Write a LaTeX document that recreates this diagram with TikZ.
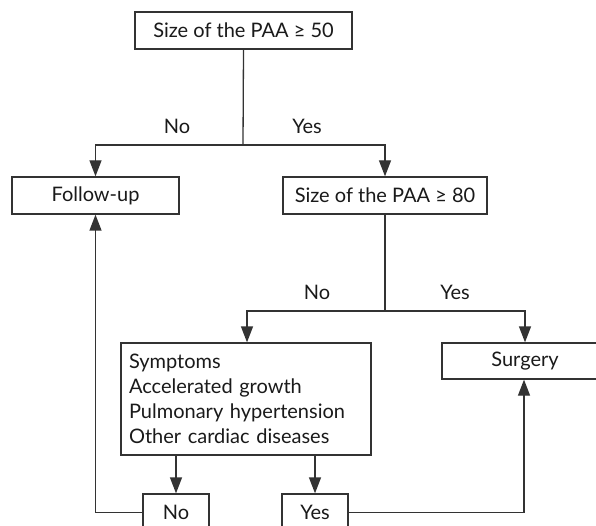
\documentclass[tikz,border=0pt]{standalone}
\usepackage{fontspec}
\setmainfont{Lato}
\usetikzlibrary{arrows.meta}
\definecolor{ln}{HTML}{333333}
\definecolor{tx}{HTML}{1A1A1A}
\tikzset{
  box/.style={draw=ln, line width=1.3pt, fill=white, inner sep=0pt, text=tx, font=\fontsize{20}{25}\selectfont},
  conn/.style={draw=ln, line width=1.3pt, -{Triangle[length=16pt,width=12pt]}},
  plain/.style={draw=ln, line width=1.3pt},
  lbl/.style={text=tx, font=\fontsize{20}{25}\selectfont, inner sep=0pt}
}
\begin{document}
\begin{tikzpicture}[x=1pt,y=-1pt]
\useasboundingbox (0,0) rectangle (596,526);
\clip (0,0) rectangle (596,526);
\node[box, minimum width=217pt, minimum height=37pt] (top) at (243.5,30.5) {Size of the PAA ≥ 50};
\node[box, minimum width=167pt, minimum height=37pt] (follow) at (95.5,195.5) {Follow-up};
\node[box, minimum width=204pt, minimum height=37pt] (paa) at (385,195.5) {Size of the PAA ≥ 80};
\node[box, minimum height=112pt, text width=234pt, inner xsep=8pt, align=left] (symp) at (246,399) {Symptoms\\Accelerated growth\\Pulmonary hypertension\\Other cardiac diseases};
\node[box, minimum width=166pt, minimum height=36pt] (surg) at (525,361) {Surgery};
\node[box, minimum width=66pt, minimum height=37pt] (no) at (176,512.5) {No};
\node[box, minimum width=66pt, minimum height=37pt] (yes) at (315,512.5) {Yes};
\coordinate (j1) at (243,145);
\coordinate (j2) at (385,311);
\node[lbl] (l1) at (177,126) {No};
\node[lbl] (l2) at (307,126) {Yes};
\node[lbl] (l3) at (317,292) {No};
\node[lbl] (l4) at (455,292) {Yes};
\draw[plain] (top.south) -- (j1);
\draw[conn] (j1) -| (follow.north);
\draw[conn] (j1) -| (paa.north);
\draw[plain] (paa.south) -- (j2);
\draw[conn] (j2) -| ([xshift=1pt]symp.north);
\draw[conn] (j2) -| (surg.north);
\draw[conn] (symp.south -| no.north) -- (no.north);
\draw[conn] (symp.south -| yes.north) -- (yes.north);
\draw[conn] (no.west) -| (follow.south);
\draw[conn] (yes.east) -| ([xshift=-1pt]surg.south);
\end{tikzpicture}
\end{document}
